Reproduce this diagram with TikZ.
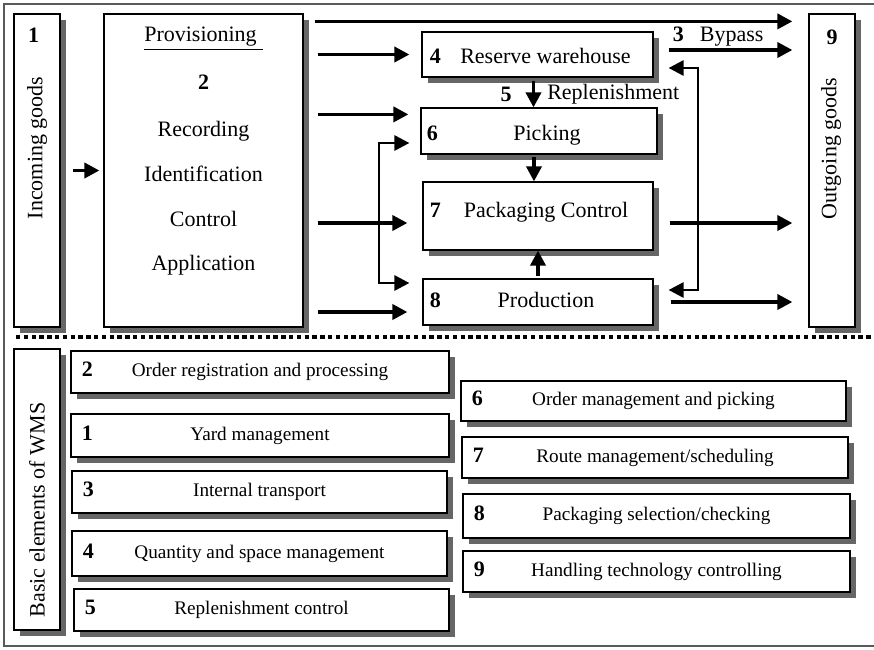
\documentclass[tikz,border=0pt]{standalone}
\usepackage{fontspec}
\setmainfont{Liberation Serif}
\usetikzlibrary{arrows.meta,positioning,shadows,calc}

\begin{document}
\begin{tikzpicture}[x=0.5pt,y=-0.5pt,font=\fontsize{11}{13}\selectfont,
box/.style={draw=black,line width=0.6pt,fill=white,inner sep=0pt,drop shadow={shadow xshift=3pt,shadow yshift=-3pt,fill=black!60,opacity=1}},
small/.style={font=\fontsize{9.6}{11.5}\selectfont},
num/.style={font=\fontsize{11}{13}\selectfont\bfseries,inner sep=0pt,anchor=base west},
arr/.style={-{Triangle[length=7.5pt,width=7.5pt]},line width=1.8pt},
brk/.style={{Triangle[length=7.5pt,width=7.5pt]}-{Triangle[length=7.5pt,width=7.5pt]},line width=1.4pt}]
\useasboundingbox (0,0) rectangle (874,649);
\draw[black!65,line width=0.6pt] (4,4) rectangle (878,646);
\node[box,minimum width=23pt,minimum height=156.5pt] (n1) at (37,170.5) {};
\node[box,minimum width=99.5pt,minimum height=156.5pt] (n2) at (203.5,170.5) {};
\node[box,minimum width=115.5pt,minimum height=22.5pt,text height=9pt,text depth=0pt] (n4) at (537.5,54.5) {\hspace*{8pt}Reserve warehouse};
\node[box,minimum width=118pt,minimum height=23pt,text height=12pt,text depth=2.5pt] (n6) at (539,131) {\hspace*{8pt}Picking};
\node[box,minimum width=115pt,minimum height=34pt,text depth=6pt] (n7) at (538,216) {\hspace*{8pt}Packaging Control};
\node[box,minimum width=115pt,minimum height=23pt,text depth=2.5pt] (n8) at (538,302) {\hspace*{8pt}Production};
\node[box,minimum width=23pt,minimum height=156.5pt] (n9) at (832,170.5) {};
\node[num,anchor=center] (l1) at (33.5,35) {1};
\node[rotate=90] (t1) at (37,148) {Incoming goods};
\node[num,anchor=center] (l9) at (832,37) {9};
\node[rotate=90] (t9) at (831,148.5) {Outgoing goods};
\node[anchor=north,inner sep=0pt,align=center] (n2txt) at (203.5,27) {\underline{Provisioning\hspace{3pt}}\\[11pt]\textbf{2}\\[10.5pt]Recording\\[9.5pt]Identification\\[9.5pt]Control\\[9pt]Application};
\node[num] (l4) at ([xshift=4pt]n4.base west) {4};
\node[num] (l6) at ([xshift=3pt]n6.base west) {6};
\node[num] (l7) at ([xshift=3.5pt]n7.base west) {7};
\node[num] (l8) at ([xshift=3.5pt]n8.base west) {8};
\draw[arr] (n1.east) ++(6pt,0) coordinate (in1) -- ([xshift=-2pt]n2.west);
\draw[arr] ([xshift=5.5pt,yshift=-4pt]n2.north east) -- ([xshift=-8pt,yshift=-4pt]n2.north east -| n9.west);
\draw[arr] ([xshift=7pt]n4.west -| n2.east) -- ([xshift=-6pt]n4.west);
\draw[arr] ([xshift=7pt,yshift=-3.5pt]n6.north west -| n2.east) -- ([xshift=-6pt,yshift=-3.5pt]n6.north west);
\draw[arr] ([xshift=7pt,yshift=-3.5pt]n7.west -| n2.east) -- ([xshift=-7.5pt,yshift=-3.5pt]n7.west);
\draw[arr] ([xshift=7pt,yshift=-5pt]n8.west -| n2.east) -- ([xshift=-7.5pt,yshift=-5pt]n8.west);
\draw[arr] ([xshift=-2pt,yshift=-1.5pt]n4.south) -- ([xshift=-2pt]n4.south |- n6.north) node[midway,left=10pt,num,anchor=east] (l5) {5} node[midway,right=6pt,inner sep=0pt] (rep) {Replenishment};
\draw[arr] ([xshift=-2pt,yshift=-1pt]n6.south -| n7.north) -- ([xshift=-2pt]n7.north);
\draw[arr] ([yshift=1pt]n8.north) -- (n8.north |- n7.south);
\coordinate (lt) at (379,143);
\coordinate (lb) at (379,283);
\draw[brk] ([xshift=-5.5pt]lt -| n6.west) -- (lt) -- (lb) -- ([xshift=-6.5pt]lb -| n8.west);
\coordinate (rt) at (698,68);
\coordinate (rb) at (698,290);
\draw[brk] ([xshift=7.5pt]rt -| n4.east) -- (rt) -- (rb) -- ([xshift=7.5pt]rb -| n8.east);
\draw[arr] ([xshift=7.5pt,yshift=2.25pt]n4.east) -- ([xshift=-8pt,yshift=2.25pt]n4.east -| n9.west) node[pos=0.4,above,inner sep=1pt] (bp) {\textbf{3}\hspace{8pt}Bypass};
\draw[arr] ([xshift=8pt,yshift=-3.5pt]n7.east) -- ([xshift=-8pt,yshift=-3.5pt]n7.east -| n9.west);
\draw[arr] ([xshift=8.5pt]n8.east) -- ([xshift=-8pt]n8.east -| n9.west);
\draw[line width=2pt,dash pattern=on 2.2pt off 1.7pt] (16,337) -- (874,337);
\node[box,minimum width=23pt,minimum height=140.5pt] (wms) at (37,489.5) {};
\node[rotate=90] (twms) at (37,510) {Basic elements of WMS};
\node[box,small,minimum width=189pt,minimum height=21pt] (b2) at (260,372) {Order registration and processing};
\node[box,small,minimum width=189pt,minimum height=21.5pt] (b1) at (260,435.5) {Yard management};
\node[box,small,minimum width=187.5pt,minimum height=21pt] (b3) at (259.5,492) {Internal transport};
\node[box,small,minimum width=187.5pt,minimum height=22.5pt] (b4) at (259.5,553.5) {Quantity and space management};
\node[box,small,minimum width=187.5pt,minimum height=21pt] (b5) at (261.5,610) {Replenishment control};
\node[box,small,minimum width=192.5pt,minimum height=20pt] (b6) at (653.5,401) {Order management and picking};
\node[box,small,minimum width=193pt,minimum height=20.5pt] (b7) at (655,457.5) {Route management/scheduling};
\node[box,small,minimum width=193.5pt,minimum height=22pt] (b8) at (656.5,516) {Packaging selection/checking};
\node[box,small,minimum width=193.5pt,minimum height=20.5pt] (b9) at (656.5,571.5) {Handling technology controlling};
\node[num] (k2) at ([xshift=5.5pt]b2.base west) {2};
\node[num] (k1) at ([xshift=5.5pt]b1.base west) {1};
\node[num] (k3) at ([xshift=5.5pt]b3.base west) {3};
\node[num] (k4) at ([xshift=5.5pt]b4.base west) {4};
\node[num] (k5) at ([xshift=5.5pt]b5.base west) {5};
\node[num] (k6) at ([xshift=5.5pt]b6.base west) {6};
\node[num] (k7) at ([xshift=5.5pt]b7.base west) {7};
\node[num] (k8) at ([xshift=5.5pt]b8.base west) {8};
\node[num] (k9) at ([xshift=5.5pt]b9.base west) {9};
\end{tikzpicture}
\end{document}
